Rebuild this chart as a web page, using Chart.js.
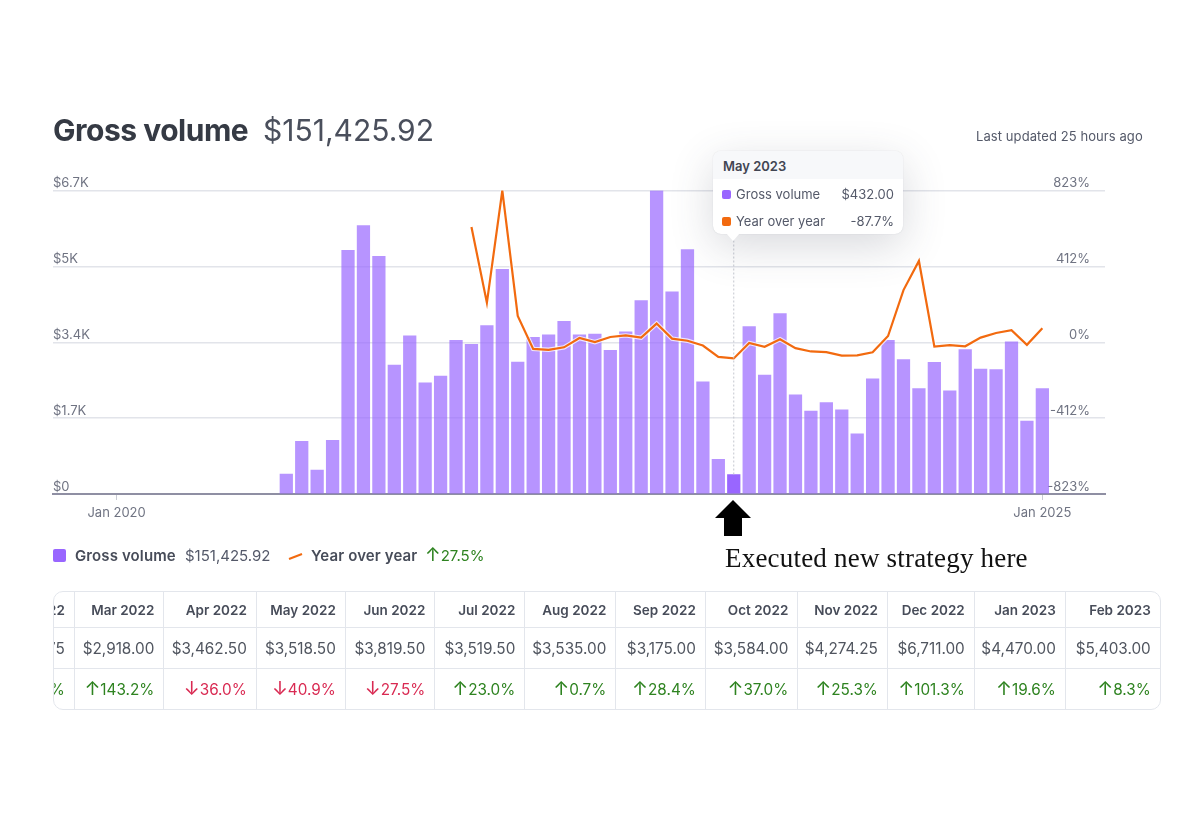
<!DOCTYPE html>
<html>
<head>
<meta charset="utf-8">
<script src="https://cdn.jsdelivr.net/npm/chart.js@4"></script>
<style>
  html, body { margin: 0; padding: 0; background: #fff; }
  body { width: 1200px; height: 819px; position: relative; overflow: hidden; font-family: Inter, sans-serif; color: #353a44; }
  canvas { position: absolute; left: 0; top: 0; }
  .abs { position: absolute; white-space: nowrap; line-height: 1; }
  .up { color: #2e8320; }
  .down { color: #d92a52; }
  .ar { font-size: 1.25em; line-height: 0; }

  #tip { position: absolute; left: 713px; top: 151px; width: 190px; height: 83px; background: #fff; border-radius: 8px; box-shadow: 0 0 1px rgba(60,66,87,.25), 0 12px 44px rgba(60,66,87,.2); font-size: 13px; color: #545969; }
  #tip .head { height: 28px; line-height: 30px; padding-left: 10px; background: #f7f8fa; border-radius: 8px 8px 0 0; font-weight: 600; color: #414552; }
  #tip .row { position: absolute; left: 23px; right: 9px; display: flex; justify-content: space-between; line-height: 16px; }
  #tip .sw { position: absolute; left: 9px; width: 9px; height: 9px; border-radius: 2px; }
  #tip .arrow { position: absolute; left: 13px; top: 82px; width: 0; height: 0; border-left: 7px solid transparent; border-right: 7px solid transparent; border-top: 8px solid #fff; }

  #tableWrap { position: absolute; left: 53px; top: 591px; width: 1106px; height: 117px; border: 1.5px solid #e3e6ec; border-radius: 10px; overflow: hidden; box-sizing: content-box; }
  #tableWrap table { position: absolute; left: -69.6px; top: 0; border-collapse: collapse; table-layout: fixed; font-size: 15.3px; }
  #tableWrap td, #tableWrap th { text-align: right; padding: 0 9px 0 0; border: 1.5px solid #e3e6ec; border-top: 0; border-left: 0; white-space: nowrap; color: #50555f; font-weight: 400; overflow: hidden; }
  #tableWrap th { height: 35px; font-size: 13.5px; font-weight: 600; color: #474c59; }
  #tableWrap tr.vol td { height: 40px; }
  #tableWrap tr.chg td { height: 40px; border-bottom: 0; }
  #tableWrap tr.chg td.up { color: #2e8320; }
  #tableWrap tr.chg td.down { color: #d92a52; }
</style>
</head>
<body>
<canvas id="volumeChart" width="1200" height="819"></canvas>

<div class="abs" style="left:53px;top:115px;font-size:30px;font-weight:700;letter-spacing:-.48px">Gross volume</div>
<div class="abs" style="left:263px;top:115px;font-size:30px;color:#4a4f5c">$151,425.92</div>
<div class="abs" style="left:976px;top:130px;font-size:13px;letter-spacing:.08px;color:#545969">Last updated 25 hours ago</div>

<div id="tip"></div>

<div class="abs" style="left:53px;top:549px;width:13px;height:13px;border-radius:2px;background:#9966ff"></div>
<div class="abs" style="left:75px;top:548px;font-size:15px;font-weight:600;letter-spacing:.12px;color:#474c59">Gross volume</div>
<div class="abs" style="left:185px;top:548px;font-size:15px;color:#545969">$151,425.92</div>
<svg class="abs" style="left:288px;top:552px" width="15" height="9"><line x1="1" y1="7" x2="14" y2="2" stroke="#f26a0f" stroke-width="2"/></svg>
<div class="abs" style="left:311px;top:548px;font-size:15px;font-weight:600;letter-spacing:.12px;color:#474c59">Year over year</div>
<div class="abs up" style="left:425px;top:548px;font-size:15px"><span class="ar">↑</span>27.5%</div>

<svg class="abs" style="left:715px;top:500px" width="37" height="37"><polygon points="18,0 36,18 27,18 27,36 9,36 9,18 0,18" fill="#000"/></svg>
<div class="abs" style="left:725px;top:545px;font-family:'Liberation Serif',serif;font-size:27px;letter-spacing:.2px;color:#111">Executed new strategy here</div>

<div id="tableWrap"><table id="monthTable"></table></div>

<script>
const months = [
  'Jan 2020','Feb 2020','Mar 2020','Apr 2020','May 2020','Jun 2020','Jul 2020','Aug 2020','Sep 2020','Oct 2020','Nov 2020','Dec 2020',
  'Jan 2021','Feb 2021','Mar 2021','Apr 2021','May 2021','Jun 2021','Jul 2021','Aug 2021','Sep 2021','Oct 2021','Nov 2021','Dec 2021',
  'Jan 2022','Feb 2022','Mar 2022','Apr 2022','May 2022','Jun 2022','Jul 2022','Aug 2022','Sep 2022','Oct 2022','Nov 2022','Dec 2022',
  'Jan 2023','Feb 2023','Mar 2023','Apr 2023','May 2023','Jun 2023','Jul 2023','Aug 2023','Sep 2023','Oct 2023','Nov 2023','Dec 2023',
  'Jan 2024','Feb 2024','Mar 2024','Apr 2024','May 2024','Jun 2024','Jul 2024','Aug 2024','Sep 2024','Oct 2024','Nov 2024','Dec 2024',
  'Jan 2025'
];
const grossVolume = [
  null,null,null,null,null,null,null,null,null,null,null,442,
  1163,530,1185,5386,5938,5254,2848,3495,2458,2605,3400,3311,
  3723,4966.75,2918,3462.5,3518.5,3819.5,3519.5,3535,3175,3584,4274.25,6711,
  4470,5403,2480,765,432,3702,2627,3988,2193,1832,2024,1862,
  1332,2546,3400,2973,2333,2914,2281,3194,2760,2752,3363,1612,
  2333
];
const yearOverYear = [
  null,null,null,null,null,null,null,null,null,null,null,null,
  null,null,null,null,null,null,null,null,null,null,null,625,
  214,823,143.2,-36,-40.9,-27.5,23,0.7,28.4,37,25.3,101.3,
  19.6,8.3,-18,-79,-87.7,-4,-25,16,-32,-50,-54,-72,
  -71,-54,34,283,441,-23,-16,-22,25,50,65,-14,
  76
];
const volumeTicks = [0, 1677.75, 3355.5, 5033.25, 6711];
const volumeTickLabels = ['$0', '$1.7K', '$3.4K', '$5K', '$6.7K'];
const changeTicks = [-823, -412, 0, 412, 823];
const monthTicks = [0, 60];
const selectedMonth = 'May 2023';

const tableMonths = ['Feb 2022','Mar 2022','Apr 2022','May 2022','Jun 2022','Jul 2022','Aug 2022','Sep 2022','Oct 2022','Nov 2022','Dec 2022','Jan 2023','Feb 2023'];
const tableVolume = ['$4,966.75','$2,918.00','$3,462.50','$3,518.50','$3,819.50','$3,519.50','$3,535.00','$3,175.00','$3,584.00','$4,274.25','$6,711.00','$4,470.00','$5,403.00'];
const tableChange = [837.0,143.2,-36.0,-40.9,-27.5,23.0,0.7,28.4,37.0,25.3,101.3,19.6,8.3];
const columnWidths = [90, 89.4, 92.5, 89, 89.5, 90, 91, 89.5, 92.5, 89.6, 86.9, 91, 95];

const BAR = 'rgba(153, 102, 255, 0.7)';
const BAR_ON = '#9966ff';
const ORANGE = '#f26a0f';
const GRID = '#e2e4ea';
const selectedIdx = months.indexOf(selectedMonth);

// tooltip box, hand placed like in the screenshot
const fmtMoney = v => '$' + v.toFixed(2);
document.getElementById('tip').innerHTML =
  '<div class="head">' + selectedMonth + '</div>' +
  '<div class="sw" style="top:39px;background:' + BAR_ON + '"></div>' +
  '<div class="row" style="top:35px"><span>Gross volume</span><span>' + fmtMoney(grossVolume[selectedIdx]) + '</span></div>' +
  '<div class="sw" style="top:66px;background:' + ORANGE + '"></div>' +
  '<div class="row" style="top:62px"><span>Year over year</span><span>' + yearOverYear[selectedIdx].toFixed(1) + '%</span></div>' +
  '<div class="arrow"></div>';

// table under the chart
const monthTable = document.getElementById('monthTable');
monthTable.style.width = columnWidths.reduce((a, b) => a + b, 0) + 'px';
let html = '<colgroup>' + columnWidths.map(w => '<col style="width:' + w + 'px">').join('') + '</colgroup>';
html += '<tr>' + tableMonths.map(m => '<th>' + m + '</th>').join('') + '</tr>';
html += '<tr class="vol">' + tableVolume.map(v => '<td>' + v + '</td>').join('') + '</tr>';
html += '<tr class="chg">' + tableChange.map(c =>
  '<td class="' + (c >= 0 ? 'up' : 'down') + '"><span class="ar">' + (c >= 0 ? '↑' : '↓') + '</span>' + Math.abs(c).toFixed(1) + '%</td>'
).join('') + '</tr>';
monthTable.innerHTML = html;

// dashed guide from the tooltip down to the selected bar
const guideLine = {
  id: 'guideLine',
  afterDatasetsDraw(chart) {
    const x = chart.scales.x.getPixelForValue(selectedIdx);
    const c = chart.ctx;
    c.save();
    c.strokeStyle = '#c4c7cf';
    c.lineWidth = 1;
    c.setLineDash([2, 2]);
    c.beginPath();
    c.moveTo(x, chart.chartArea.top + 50);
    c.lineTo(x, chart.scales.y.getPixelForValue(grossVolume[selectedIdx]));
    c.stroke();
    c.restore();
  }
};

Chart.defaults.font.family = 'Inter, sans-serif';
Chart.defaults.font.size = 13;
Chart.defaults.color = '#6f7382';

const toPoints = arr => arr.map((v, i) => ({ x: i, y: v }));

new Chart(document.getElementById('volumeChart'), {
  type: 'bar',
  data: {
    datasets: [
      {
        type: 'line',
        label: 'Year over year',
        data: toPoints(yearOverYear),
        yAxisID: 'yChange',
        borderColor: ORANGE,
        borderWidth: 2.2,
        pointRadius: 0,
        tension: 0,
        order: 1
      },
      {
        type: 'line',
        label: 'halo',
        data: toPoints(yearOverYear),
        yAxisID: 'yChange',
        borderColor: 'rgba(255,255,255,0.75)',
        borderWidth: 4.4,
        pointRadius: 0,
        tension: 0,
        order: 2
      },
      {
        label: 'Gross volume',
        data: toPoints(grossVolume),
        yAxisID: 'y',
        barThickness: 12.6,
        backgroundColor: ctx => ctx.dataIndex === selectedIdx ? BAR_ON : BAR,
        order: 3
      }
    ]
  },
  options: {
    responsive: false,
    animation: false,
    layout: { padding: { left: 53, right: 95, top: 190.5, bottom: 293 } },
    plugins: { legend: { display: false }, tooltip: { enabled: false } },
    scales: {
      x: {
        type: 'linear',
        offset: false,
        min: -4.12,
        max: 64.06,
        afterBuildTicks: s => { s.ticks = monthTicks.map(v => ({ value: v })); },
        afterFit: s => { s.height = 32; },
        grid: { offset: false, drawOnChartArea: false, tickLength: 6, color: '#c9ccd4' },
        border: { color: '#8f8fa3', width: 2 },
        ticks: { autoSkip: false, maxRotation: 0, padding: 5, callback: v => months[v] }
      },
      y: {
        min: 0,
        max: 6711,
        afterBuildTicks: s => { s.ticks = volumeTicks.map(v => ({ value: v })); },
        grid: { color: GRID, lineWidth: 1.5, drawTicks: false },
        border: { display: false },
        ticks: {
          mirror: true,
          padding: 0,
          labelOffset: -7,
          callback: v => volumeTickLabels[volumeTicks.indexOf(v)]
        }
      },
      yChange: {
        position: 'right',
        min: -823,
        max: 823,
        afterBuildTicks: s => { s.ticks = changeTicks.map(v => ({ value: v })); },
        afterFit: s => { s.width = 0; },
        grid: { display: false, drawTicks: false },
        border: { display: false },
        ticks: { mirror: true, padding: -15, labelOffset: -7, callback: v => v + '%' }
      }
    }
  },
  plugins: [guideLine]
});
</script>
</body>
</html>
